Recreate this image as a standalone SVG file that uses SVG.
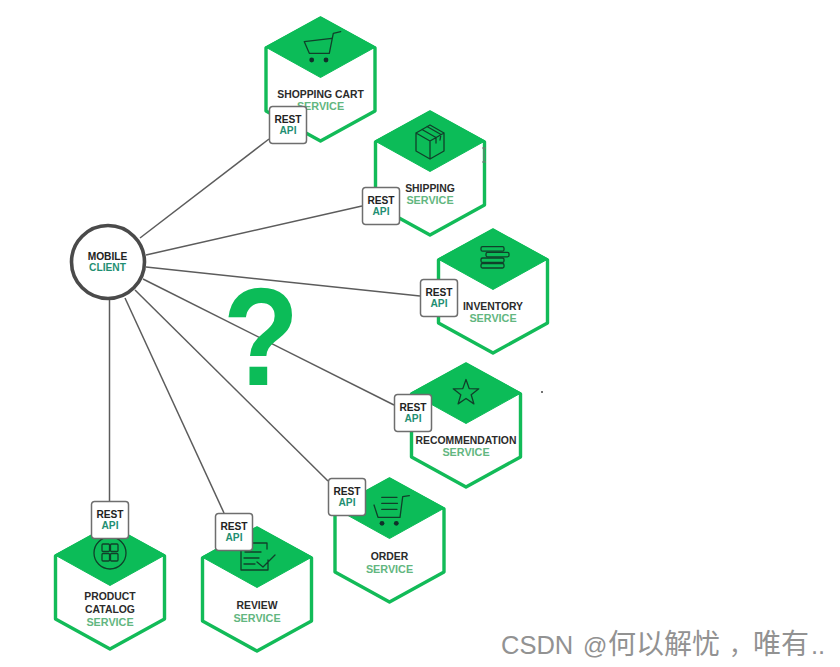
<svg xmlns="http://www.w3.org/2000/svg" width="840" height="667" viewBox="0 0 840 667">
  <style>
    text { font-family: "Liberation Sans", Arial, sans-serif; font-weight: 700; text-anchor: middle; }
    .hex { fill: #fff; stroke: #12bb58; stroke-width: 3.4; stroke-linejoin: round; }
    .cap { fill: #0cbc58; stroke: #0cbc58; stroke-width: 1; stroke-linejoin: round; }
    .name { font-size: 10.4px; fill: #2b2b2b; }
    .svc { font-size: 10.8px; fill: #62b680; }
    .box { fill: #fff; stroke: #6e6e6e; stroke-width: 1.5; }
    .rest { font-size: 10.2px; fill: #222; }
    .api { font-size: 10.2px; fill: #1f8f72; }
    .icon { fill: none; stroke: #10402a; stroke-width: 1.3; stroke-linejoin: round; stroke-linecap: round; }
    .dot { fill: #10302a; }
    .link { stroke: #5c5c5c; stroke-width: 1.5; fill: none; }
    .mark { font-family: "Liberation Sans", "Noto Sans CJK SC", sans-serif; font-weight: 400; fill: #929292; text-anchor: start; }
  </style>
  <defs>
    <g id="shell">
      <path class="hex" d="M0 2L54.500 32V95L0 125L-54.500 95V32Z"/>
      <path class="cap" d="M0 1L55 31L0 61.500L-55 31Z"/>
    </g>
    <g id="api-tag">
      <rect class="box" x="0.500" y="0.500" width="37" height="37" rx="3"/>
      <text class="rest" x="19" y="16.500">REST</text>
      <text class="api" x="19" y="28">API</text>
    </g>
  </defs>

  <g id="connectors">
    <line class="link" x1="140" y1="238" x2="269" y2="139"/>
    <line class="link" x1="146" y1="255" x2="362" y2="206"/>
    <line class="link" x1="146" y1="267" x2="420" y2="296"/>
    <line class="link" x1="143" y1="279" x2="394" y2="405"/>
    <line class="link" x1="135" y1="290" x2="328" y2="481"/>
    <line class="link" x1="125" y1="298" x2="224" y2="513"/>
    <line class="link" x1="109.500" y1="300" x2="109.500" y2="501"/>
  </g>

  <g id="mobile-client">
    <circle cx="108" cy="262" r="36.500" fill="#fff" stroke="#4a4a4a" stroke-width="3.600"/>
    <text class="rest" x="107.500" y="260">MOBILE</text>
    <text class="api" x="107.500" y="271">CLIENT</text>
  </g>

  <text id="question" transform="translate(261 384.500) scale(0.92 1.03)" style="font-size:136px;fill:#0cbc58">?</text>

  <g id="shopping-cart" transform="translate(320.500 16)">
    <use href="#shell"/>
    <path class="icon" d="M-16.200 25.700L11.200 22.300M-16.200 25.700L-11.200 37.300H8.800L12.800 17.300L20.200 15.700"/>
    <circle class="dot" cx="-8.800" cy="44" r="2.400"/>
    <circle class="dot" cx="5.500" cy="44" r="2.400"/>
    <text class="name" x="0" y="81.500">SHOPPING CART</text>
    <text class="svc" x="0" y="94">SERVICE</text>
    <use href="#api-tag" x="-51.500" y="90"/>
  </g>

  <g id="shipping" transform="translate(430 110)">
    <use href="#shell"/>
    <path class="icon" d="M0 49L-14 41V23L0 31ZM0 49L14 41V23L0 31ZM-14 23L0 15L14 23M-8 19.500L6 27.500V33M-3 16.500L11 24.500L10 30"/>
    <text class="name" x="0" y="81.500">SHIPPING</text>
    <text class="svc" x="0" y="94">SERVICE</text>
    <use href="#api-tag" x="-68" y="77"/>
  </g>

  <g id="inventory" transform="translate(493 228)">
    <use href="#shell"/>
    <g class="icon">
      <rect x="-12" y="18.700" width="23" height="4.500" rx="1.500"/>
      <rect x="-7" y="24.300" width="23" height="4.500" rx="1.500"/>
      <rect x="-12" y="30" width="23" height="4.500" rx="1.500"/>
      <rect x="-12" y="35.500" width="23" height="4.500" rx="1.500"/>
    </g>
    <text class="name" x="0" y="81.500">INVENTORY</text>
    <text class="svc" x="0" y="94">SERVICE</text>
    <use href="#api-tag" x="-73" y="51"/>
  </g>

  <g id="recommendation" transform="translate(466 362)">
    <use href="#shell"/>
    <path class="icon" d="M0 17.500L3.200 26.600L12.800 26.800L5.200 32.700L7.900 41.900L0 36.500L-7.900 41.900L-5.200 32.700L-12.800 26.800L-3.200 26.600Z"/>
    <text class="name" x="0" y="81.500">RECOMMENDATION</text>
    <text class="svc" x="0" y="94">SERVICE</text>
    <use href="#api-tag" x="-72" y="32"/>
  </g>

  <g id="order" transform="translate(389.500 477)">
    <use href="#shell"/>
    <path class="icon" d="M-15.500 28L-11.500 40.300H10.500L13.200 19.700L19.800 18.700M-7.800 20.300H7.500M-7.800 26.300H8M-7.800 32.300H7.500"/>
    <circle class="dot" cx="-7.500" cy="46.300" r="2.400"/>
    <circle class="dot" cx="6.800" cy="46.300" r="2.400"/>
    <text class="name" x="0" y="83">ORDER</text>
    <text class="svc" x="0" y="96">SERVICE</text>
    <use href="#api-tag" x="-61.500" y="1"/>
  </g>

  <g id="product-catalog" transform="translate(110 524)">
    <use href="#shell"/>
    <g class="icon">
      <circle cx="0" cy="29" r="16"/>
      <rect x="-8" y="20" width="7.500" height="7.500" rx="1"/>
      <rect x="0.500" y="20" width="7.500" height="7.500" rx="1"/>
      <rect x="-8" y="29.500" width="7.500" height="7.500" rx="1"/>
      <rect x="0.500" y="29.500" width="7.500" height="7.500" rx="1"/>
    </g>
    <text class="name" x="0" y="76">PRODUCT</text>
    <text class="name" x="0" y="88.500">CATALOG</text>
    <text class="svc" x="0" y="101.500">SERVICE</text>
    <use href="#api-tag" x="-19" y="-23"/>
  </g>

  <g id="review" transform="translate(257 526)">
    <use href="#shell"/>
    <path class="icon" d="M-6 17H10V23M-12 26H4M-13 32H2M-13 38H-2M-16 20V44H11V34M0 36L6 41L18 29"/>
    <text class="name" x="0" y="83">REVIEW</text>
    <text class="svc" x="0" y="96">SERVICE</text>
    <use href="#api-tag" x="-42" y="-13"/>
  </g>

  <!-- text-cursor glyph and stray speck -->
  <path d="M482 148H486M482 162H486M484 148V162" stroke="#777" stroke-width="1" fill="none"/>
  <circle cx="542" cy="392" r="1" fill="#444"/>

  <text class="mark" y="654" style="font-size:25.500px"><tspan x="501">CSDN</tspan> <tspan x="583" style="font-size:24px">@</tspan><tspan x="608" style="font-size:28px">何以解忧</tspan><tspan x="729" style="font-size:24px">，</tspan><tspan x="753" style="font-size:28px">唯有</tspan><tspan x="811">..</tspan></text>
</svg>
